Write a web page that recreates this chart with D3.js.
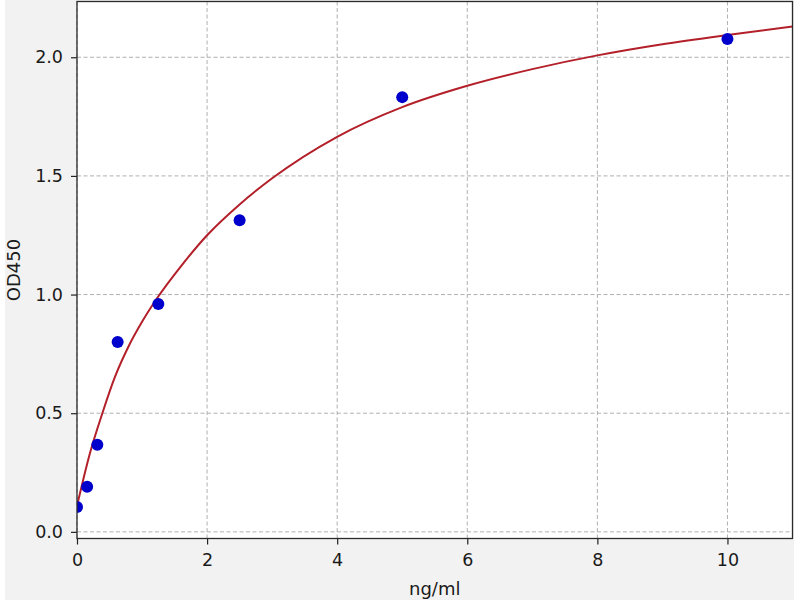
<!DOCTYPE html>
<html>
<head>
<meta charset="utf-8">
<script src="https://cdn.jsdelivr.net/npm/d3@7"></script>
<style>
  html, body { margin: 0; padding: 0; background: #ffffff; }
  svg { display: block; }
  text { font-family: "DejaVu Sans", sans-serif; fill: #1a1a1a; }
</style>
</head>
<body>
<script>
// Standard points (concentration ng/ml, OD450)
const pointX = [0, 0.156, 0.3125, 0.625, 1.25, 2.5, 5, 10];
const pointY = [0.105, 0.19, 0.367, 0.80, 0.96, 1.313, 1.832, 2.077];

// Fitted curve
const curveX = [0, 0.1, 0.2, 0.39, 0.585, 0.79, 1.0, 1.22, 1.6, 2, 2.5, 3, 4, 5, 6, 7, 8, 9, 10, 11];
const curveY = [0.11, 0.225, 0.332, 0.5, 0.654, 0.78, 0.885, 0.98, 1.12, 1.25, 1.38, 1.49, 1.665, 1.79, 1.88, 1.95, 2.008, 2.055, 2.094, 2.13];

const xTicks = [0, 2, 4, 6, 8, 10];
const yTicks = [0.0, 0.5, 1.0, 1.5, 2.0];
const xLabel = "ng/ml";
const yLabel = "OD450";

(function () {
const W = 800, H = 600;
const pL = 77, pR = 792.5, pT = 1.5, pB = 538.5;

const svg = d3.select("body").append("svg").attr("width", W).attr("height", H);

svg.append("rect").attr("x", 5).attr("y", 0).attr("width", 789).attr("height", H).attr("fill", "#f2f2f2");
svg.append("rect").attr("x", pL).attr("y", pT).attr("width", pR - pL).attr("height", pB - pT).attr("fill", "#ffffff");

const x = d3.scaleLinear().domain([0, 11]).range([pL, pR]);
const y = d3.scaleLinear().domain([-0.028, 2.235]).range([pB, pT]);

// grid
const grid = svg.append("g");
grid.selectAll("line.gx").data(xTicks).enter().append("line")
  .attr("x1", d => x(d)).attr("x2", d => x(d)).attr("y1", pT).attr("y2", pB)
  .attr("stroke", "#b0b0b0").attr("stroke-width", 1).attr("stroke-dasharray", "4,2.5");
grid.selectAll("line.gy").data(yTicks).enter().append("line")
  .attr("y1", d => y(d)).attr("y2", d => y(d)).attr("x1", pL).attr("x2", pR)
  .attr("stroke", "#b0b0b0").attr("stroke-width", 1).attr("stroke-dasharray", "4,2.5");

// curve
svg.append("clipPath").attr("id", "clip").append("rect")
  .attr("x", pL).attr("y", pT).attr("width", pR - pL).attr("height", pB - pT);
const line = d3.line().x(d => x(d[0])).y(d => y(d[1])).curve(d3.curveMonotoneX);
svg.append("path").datum(d3.zip(curveX, curveY))
  .attr("d", line).attr("fill", "none").attr("stroke", "#b3202a").attr("stroke-width", 2)
  .attr("clip-path", "url(#clip)");

// points
svg.append("g").attr("clip-path", "url(#clip)").selectAll("circle").data(d3.zip(pointX, pointY)).enter().append("circle")
  .attr("cx", d => x(d[0])).attr("cy", d => y(d[1])).attr("r", 6)
  .attr("fill", "#0000cc");

// axes
const xAxis = d3.axisBottom(x).tickValues(xTicks).tickFormat(d3.format("d")).tickSize(6).tickPadding(9);
const yAxis = d3.axisLeft(y).tickValues(yTicks).tickFormat(d3.format(".1f")).tickSize(6).tickPadding(8);
const gx = svg.append("g").attr("transform", `translate(0,${pB})`).call(xAxis);
const gy = svg.append("g").attr("transform", `translate(${pL},0)`).call(yAxis);
[gx, gy].forEach(g => {
  g.select(".domain").remove();
  g.selectAll("line").attr("stroke", "#222").attr("stroke-width", 1.2);
  g.selectAll("text").style("font-size", "17.5px").style("font-family", "DejaVu Sans, sans-serif").attr("fill", "#1a1a1a");
});

// frame
svg.append("rect").attr("x", pL).attr("y", pT).attr("width", pR - pL).attr("height", pB - pT)
  .attr("fill", "none").attr("stroke", "#2a2a2a").attr("stroke-width", 1.3);

svg.append("text").attr("x", (pL + pR) / 2).attr("y", 595).attr("text-anchor", "middle")
  .style("font-size", "18px").text(xLabel);
svg.append("text").attr("transform", `translate(19.5,${(pT + pB) / 2}) rotate(-90)`)
  .attr("text-anchor", "middle").style("font-size", "18px").text(yLabel);
})();
</script>
</body>
</html>
